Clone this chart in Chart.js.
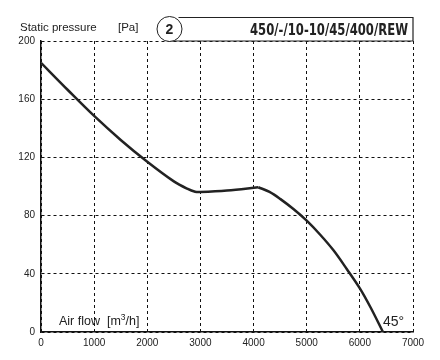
<!DOCTYPE html>
<html>
<head>
<meta charset="utf-8">
<script src="https://cdn.jsdelivr.net/npm/chart.js@4/dist/chart.umd.min.js"></script>
<style>
html,body{margin:0;padding:0;background:#fff;}
#wrap{position:relative;width:440px;height:360px;}
</style>
</head>
<body>
<div id="wrap"><canvas id="c" width="440" height="360"></canvas></div>
<script>
// Data (curve split at the sharp peak)
const airFlowA = [0, 500, 1000, 1500, 2000, 2500, 2750, 2900, 3000, 3500, 4090];
const pressureA = [185, 166.5, 148.5, 132, 117, 103.5, 98.5, 96.4, 96.2, 97.2, 99.5];
const airFlowB = [4090, 4300, 4500, 4750, 5000, 5250, 5500, 5750, 6000, 6200, 6435];
const pressureB = [99.5, 96.3, 91.5, 84.5, 76.5, 67, 56.3, 43.5, 30, 17, 0];
const xTicks = [0, 1000, 2000, 3000, 4000, 5000, 6000, 7000];
const yTicks = [0, 40, 80, 120, 160, 200];
const yLabel = 'Static pressure';
const yUnit = '[Pa]';
const xLabel = 'Air flow  [m';
const badge = '2';
const modelName = '450/-/10-10/45/400/REW';
const angleLabel = '45°';

const toPts = (xs, ys) => xs.map((x, i) => ({x: x, y: ys[i]}));

const decor = {
  id: 'decor',
  afterDraw(chart) {
    const ctx = chart.ctx;
    const a = chart.chartArea;
    ctx.save();
    // header box
    const cx = 169.5, cy = 29, r = 12.5;
    ctx.strokeStyle = '#222';
    ctx.lineWidth = 1.2;
    ctx.beginPath();
    ctx.moveTo(cx + 9, a.top - 23.5);
    ctx.lineTo(a.right, a.top - 23.5);
    ctx.lineTo(a.right, a.top);
    ctx.lineTo(cx, a.top);
    ctx.stroke();
    ctx.fillStyle = '#fff';
    ctx.beginPath();
    ctx.arc(cx, cy, r, 0, Math.PI * 2);
    ctx.fill();
    ctx.lineWidth = 1;
    ctx.stroke();
    ctx.fillStyle = '#222';
    ctx.font = 'bold 14px "Liberation Sans", Arial, sans-serif';
    ctx.textAlign = 'center';
    ctx.textBaseline = 'middle';
    ctx.fillText(badge, cx, cy + 1);
    // model name (condensed to the reference width)
    ctx.textAlign = 'left';
    ctx.textBaseline = 'alphabetic';
    ctx.font = 'bold 15px "DejaVu Sans", sans-serif';
    const mw = ctx.measureText(modelName).width;
    const targetW = 158;
    ctx.save();
    ctx.translate(a.right - 5 - targetW, 35);
    ctx.scale(targetW / mw, 1);
    ctx.fillText(modelName, 0, 0);
    ctx.restore();
    // axis title
    ctx.font = '11.5px "Liberation Sans", sans-serif';
    ctx.fillText(yLabel, 20, 31);
    ctx.fillText(yUnit, 118, 31);
    // air flow label
    ctx.font = '12.5px "Liberation Sans", sans-serif';
    ctx.fillText(xLabel, 59, 325);
    let w = ctx.measureText(xLabel).width;
    ctx.font = '8.5px "Liberation Sans", sans-serif';
    ctx.fillText('3', 59 + w, 320);
    let w2 = ctx.measureText('3').width;
    ctx.font = '12.5px "Liberation Sans", sans-serif';
    ctx.fillText('/h]', 59 + w + w2, 325);
    // angle label
    ctx.font = '14px "Liberation Sans", sans-serif';
    ctx.fillText(angleLabel, 383, 326);
    ctx.restore();
  }
};

const lineStyle = {borderColor: '#222', borderWidth: 2.5, pointRadius: 0, fill: false, tension: 0.35};

new Chart(document.getElementById('c'), {
  type: 'line',
  data: {
    datasets: [
      Object.assign({data: toPts(airFlowA, pressureA)}, lineStyle),
      Object.assign({data: toPts(airFlowB, pressureB)}, lineStyle)
    ]
  },
  options: {
    responsive: false,
    animation: false,
    devicePixelRatio: 1,
    layout: {padding: {top: 41, right: 27, left: 0, bottom: 0}},
    plugins: {legend: {display: false}, tooltip: {enabled: false}},
    scales: {
      x: {
        type: 'linear', min: 0, max: 7000,
        afterBuildTicks(s) { s.ticks = xTicks.map(v => ({value: v})); },
        afterFit(s) { s.height = 28; },
        grid: {color: '#111', lineWidth: 1, drawTicks: false},
        border: {display: true, color: '#111', width: 1.5, dash: [3, 3]},
        ticks: {padding: 5, color: '#222', font: {family: '"Liberation Sans", Arial, sans-serif', size: 10}, maxRotation: 0,
          callback: v => String(v)}
      },
      y: {
        min: 0, max: 200,
        afterBuildTicks(s) { s.ticks = yTicks.map(v => ({value: v})); },
        afterFit(s) { s.width = 41; },
        grid: {color: '#111', lineWidth: 1, drawTicks: false},
        border: {display: true, color: '#111', width: 1.5, dash: [3, 3]},
        ticks: {padding: 6, color: '#222', font: {family: '"Liberation Sans", Arial, sans-serif', size: 10},
          callback: v => String(v)}
      }
    }
  },
  plugins: [decor]
});
</script>
</body>
</html>
